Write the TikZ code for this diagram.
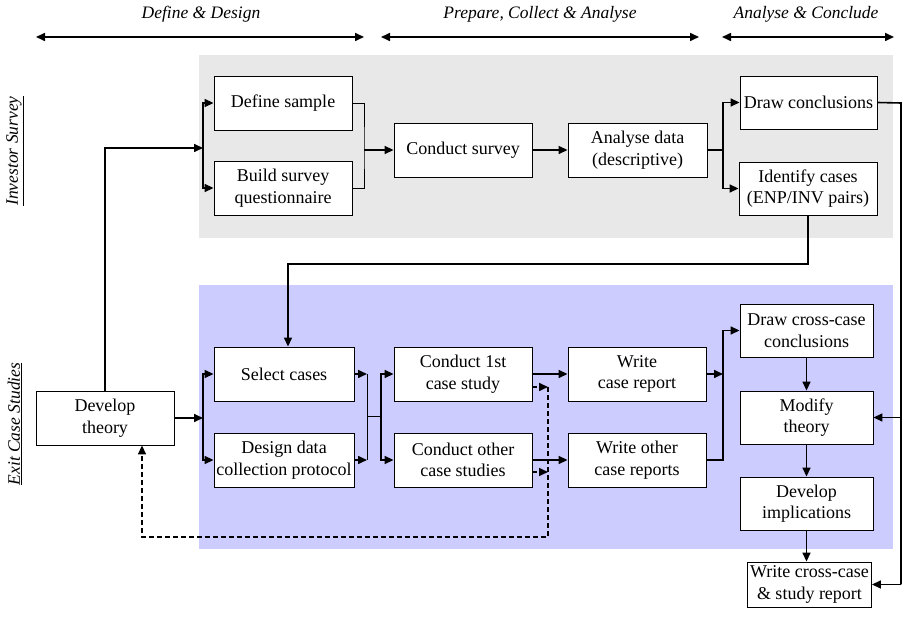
\documentclass[tikz,border=0pt]{standalone}
\usepackage{fontspec}
\setmainfont{Liberation Serif}
\usetikzlibrary{arrows.meta,calc}
\definecolor{surveygray}{HTML}{E8E8E8}
\definecolor{casesblue}{HTML}{CCCCFF}
\begin{document}
\begin{tikzpicture}[x=1pt,y=-1pt,
  box/.style={draw=black,line width=0.9pt,fill=white,align=center,inner sep=0pt,
    minimum width=138pt,minimum height=54pt,font=\fontsize{18}{21.5}\selectfont},
  tip/.style={-{Triangle[length=9pt,width=8pt]}},
  arr/.style={line width=1.6pt,tip},
  ln/.style={line width=1.6pt},
  thinln/.style={line width=0.9pt},
  dsh/.style={line width=1.6pt,dash pattern=on 5pt off 3pt},
  hdr/.style={font=\fontsize{17.5}{20}\selectfont\itshape},
  span/.style={line width=1.6pt,{Triangle[length=9pt,width=8pt]}-{Triangle[length=9pt,width=8pt]}},
]
\useasboundingbox (0,0) rectangle (906,617);

% phase bands
\fill[surveygray] (199,55) rectangle (893,238);
\fill[casesblue] (199,285) rectangle (893,549);

% phase headings
\node[hdr] (h1) at (201,14) {Define \& Design};
\node[hdr] (h2) at (540,14) {Prepare, Collect \& Analyse};
\node[hdr] (h3) at (806,14) {Analyse \& Conclude};
\coordinate (a1l) at (36,37);  \coordinate (a1r) at (364,37);
\coordinate (a2l) at (381,37); \coordinate (a2r) at (699,37);
\coordinate (a3l) at (722,37); \coordinate (a3r) at (894,37);
\draw[span] (a1l) -- (a1r);
\draw[span] (a2l) -- (a2r);
\draw[span] (a3l) -- (a3r);

% study labels
\node[hdr,rotate=90] (l1) at (15,151) {\underline{Investor Survey}};
\node[hdr,rotate=90] (l2) at (15,424) {\underline{Exit Case Studies}};

% investor survey boxes
\node[box] (ds) at (283,103) {Define sample};
\node[box] (bq) at (283,188) {Build survey\\questionnaire};
\node[box] (cs) at (463,150) {Conduct survey};
\node[box,minimum width=139pt] (ad) at (637.5,150) {Analyse data\\(descriptive)};
\node[box,minimum width=137pt,minimum height=53pt] (dc) at (808.5,102.5) {Draw conclusions};
\node[box,minimum width=138pt,minimum height=53pt] (ic) at (808,188.5) {Identify cases\\(ENP/INV pairs)};

% case study boxes
\node[box] (dt) at (105,418) {Develop\\theory};
\node[box,minimum width=140pt] (sc) at (284,374) {Select cases};
\node[box,minimum width=140pt] (dd) at (284,460) {Design data\\collection protocol};
\node[box] (c1) at (463,374) {Conduct 1st\\case study};
\node[box] (co) at (463,460) {Conduct other\\case studies};
\node[box] (wc) at (637,374) {Write\\case report};
\node[box] (wo) at (637,460) {Write other\\case reports};
\node[box,minimum width=133pt,minimum height=53pt] (dx) at (806.5,330.5) {Draw cross-case\\conclusions};
\node[box,minimum width=133pt,minimum height=53pt] (mt) at (806.5,417.5) {Modify\\theory};
\node[box,minimum width=133pt,minimum height=53pt] (di) at (806.5,503.5) {Develop\\implications};
\node[box,minimum width=124pt,minimum height=45pt] (wr) at (809.5,584.5) {Write cross-case\\\& study report};

% survey flow
\coordinate (sb) at (203,148);
\draw[arr] (dt.north) |- (sb);
\draw[arr] (sb) |- (ds.west);
\draw[arr] (sb) |- (bq.west);
\coordinate (sj) at (364,150);
\draw[thinln] (ds.east) -| (sj) |- (bq.east);
\draw[arr] (sj) -- (cs.west);
\draw[arr] (cs) -- (ad);
\coordinate (ab) at (723,150);
\draw[ln] (ad.east) -- (ab);
\draw[arr] (ab) |- (dc.west);
\draw[arr] (ab) |- (ic.west);

% identified cases feed the case selection
\coordinate (icl) at (288,264);
\draw[arr] (ic.south) |- (icl) -- (icl |- sc.north);

% survey conclusions feed the theory and the report
\coordinate (rr) at (901,103);
\draw[ln] (dc.east) -- (rr) -- (rr |- wr.east);
\draw[arr] (rr |- mt.east) -- (mt.east);
\draw[arr] (rr |- wr.east) -- (wr.east);

% case study flow
\coordinate (cb) at (203,418);
\draw[arr] (dt.east) -- (cb);
\draw[arr] (cb) |- (sc.west);
\draw[arr] (cb) |- (dd.west);
\coordinate (j1) at (367,416);
\draw[arr] (sc.east) -- (sc.east -| j1);
\draw[arr] (dd.east) -- (dd.east -| j1);
\draw[thinln] (sc.east -| j1) -- (dd.east -| j1);
\coordinate (j2) at (381,416);
\draw[thinln] (j1) -- (j2);
\draw[arr] (j2) |- (c1.west);
\draw[arr] (j2) |- (co.west);
\draw[arr] (c1) -- (wc);
\draw[arr] (co) -- (wo);

% feedback from the case studies to the theory
\coordinate (dv) at (548,387);
\coordinate (dl) at (548,537);
\draw[dsh,tip] ($(c1.east)+(0,13)$) -- (dv);
\draw[dsh,tip] ($(co.east)+(0,12)$) -- (dv |- 0,472);
\draw[dsh,tip] (dv) -- (dl) -| ($(dt.south)+(37,0)$);

% cross-case analysis
\coordinate (wb) at (723,460);
\draw[arr] (wc.east) -- (wc.east -| wb);
\draw[arr] (wo.east) -| (dx.west -| wb) -- (dx.west);
\draw[arr] (dx) -- (mt);
\draw[arr] (mt) -- (di);
\draw[arr] (di.south) -- (di.south |- wr.north);
\end{tikzpicture}
\end{document}
